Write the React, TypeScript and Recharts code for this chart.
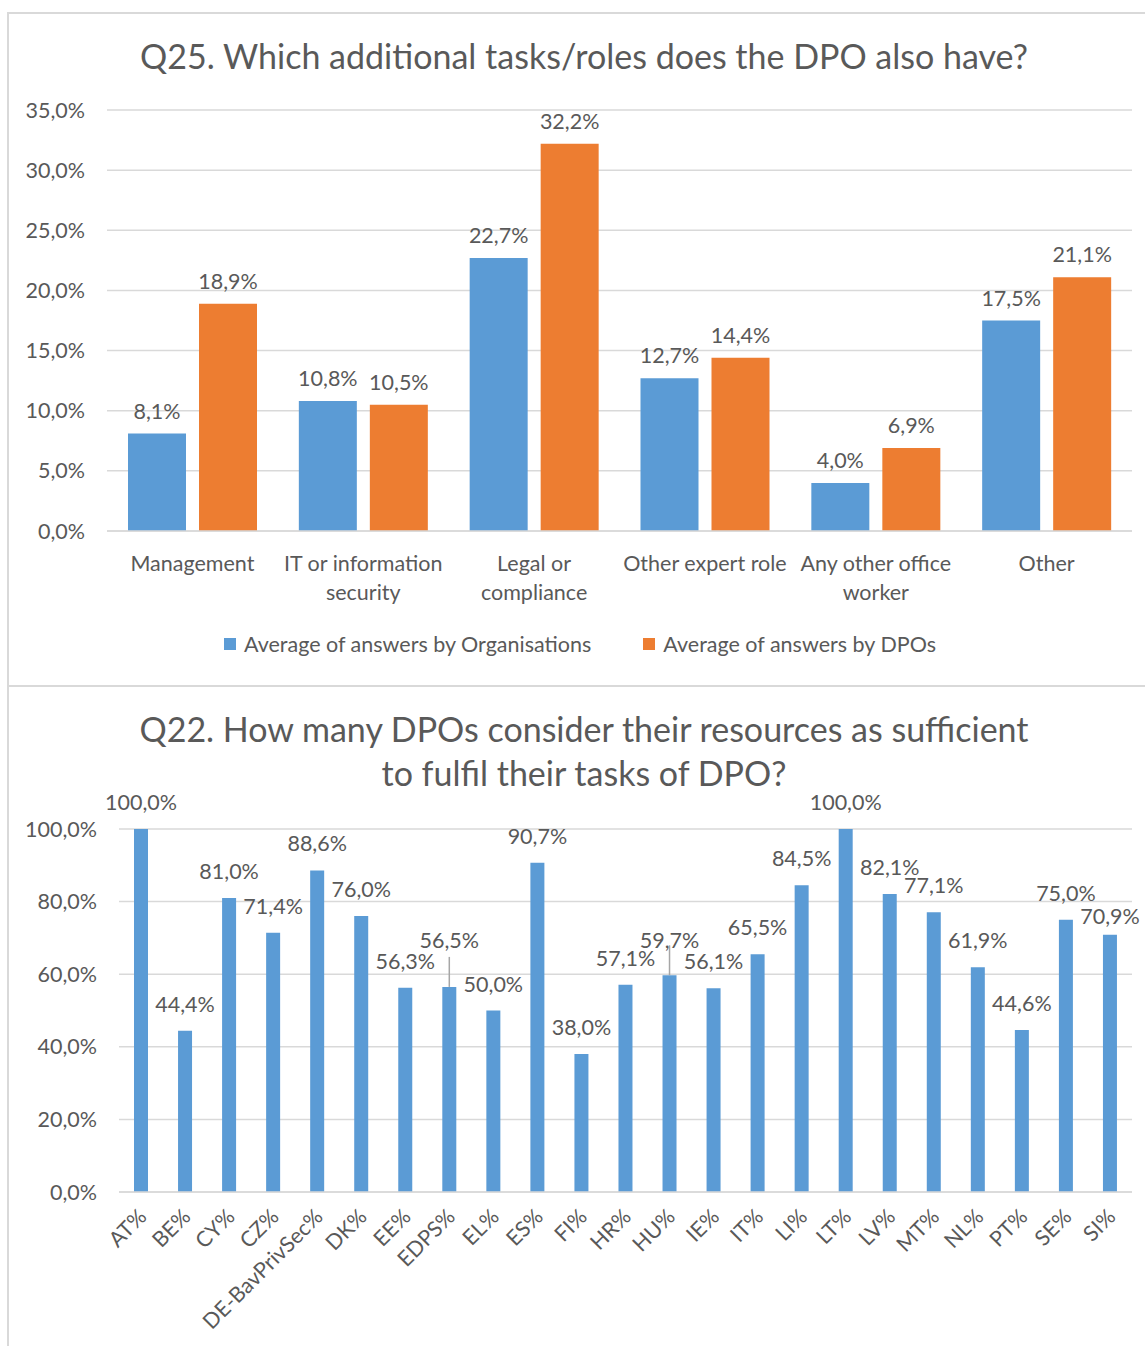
import { Bar, BarChart, CartesianGrid, LabelList, XAxis, YAxis } from 'recharts';

// Q25 data
const taskCategories = [
  'Management',
  'IT or information\nsecurity',
  'Legal or\ncompliance',
  'Other expert role',
  'Any other office\nworker',
  'Other',
];
const orgValues = [8.1, 10.8, 22.7, 12.7, 4.0, 17.5];
const dpoValues = [18.9, 10.5, 32.2, 14.4, 6.9, 21.1];
const taskTicks = [0, 5, 10, 15, 20, 25, 30, 35];

// Q22 data
const countries = [
  'AT%', 'BE%', 'CY%', 'CZ%', 'DE-BavPrivSec%', 'DK%', 'EE%', 'EDPS%', 'EL%', 'ES%', 'FI%', 'HR%',
  'HU%', 'IE%', 'IT%', 'LI%', 'LT%', 'LV%', 'MT%', 'NL%', 'PT%', 'SE%', 'SI%',
];
const sufficientValues = [
  100.0, 44.4, 81.0, 71.4, 88.6, 76.0, 56.3, 56.5, 50.0, 90.7, 38.0, 57.1,
  59.7, 56.1, 65.5, 84.5, 100.0, 82.1, 77.1, 61.9, 44.6, 75.0, 70.9,
];
const sufficientTicks = [0, 20, 40, 60, 80, 100];

const taskData = taskCategories.map((name, i) => ({ name, org: orgValues[i], dpo: dpoValues[i] }));
const sufficientData = countries.map((name, i) => ({ name, value: sufficientValues[i] }));

const BLUE = '#5B9BD5';
const ORANGE = '#ED7D31';
const TEXT = '#595959';
const GRID = '#D9D9D9';
const FONT = 'Lato, "Open Sans", sans-serif';
const FS = 21.5;

// label nudges as Excel placed them (positive = lifted with a leader line)
const raisedLabels: Record<string, number> = { 'EDPS%': 20, 'HU%': 8, 'SI%': -8 };

const pct = (v: number) => v.toFixed(1).replace('.', ',') + '%';

const WrappedTick = ({ x, y, payload }: any) => {
  const lines = String(payload.value).split('\n');
  return (
    <text x={x} y={y} textAnchor="middle" fill={TEXT} fontSize={FS} fontFamily={FONT}>
      {lines.map((l, i) => (
        <tspan key={i} x={x} dy={i === 0 ? 32 : 29}>
          {l}
        </tspan>
      ))}
    </text>
  );
};

const RotatedTick = ({ x, y, payload }: any) => (
  <text
    x={x + 7}
    y={y + 18}
    transform={`rotate(-45, ${x + 7}, ${y + 18})`}
    textAnchor="end"
    fill={TEXT}
    fontSize={FS}
    fontFamily={FONT}
  >
    {payload.value}
  </text>
);

const SufficientLabel = (props: any) => {
  const { x, y, width, value, index } = props;
  const name = countries[index];
  const lift = raisedLabels[name] || 0;
  const cx = x + width / 2;
  const ty = y - 19 - lift;
  return (
    <g>
      {lift > 0 && <line x1={cx} x2={cx} y1={y} y2={y - 30} stroke="#A6A6A6" strokeWidth={1.5} />}
      <text x={cx} y={ty} textAnchor="middle" fill={TEXT} fontSize={FS} fontFamily={FONT}>
        {pct(value)}
      </text>
    </g>
  );
};

export default function App() {
  return (
    <div style={{ position: 'absolute', left: 0, top: 0, width: 1145, height: 1346, background: '#fff', fontFamily: FONT, overflow: 'hidden' }}>
      <div style={{ position: 'absolute', left: 7, top: 12, width: 1160, height: 671, border: `2px solid ${GRID}` }} />
      <div style={{ position: 'absolute', left: 7, top: 685, width: 1160, height: 700, borderLeft: `2px solid ${GRID}`, borderTop: `2px solid ${GRID}` }} />

      <div style={{ position: 'absolute', left: 84, top: 35, width: 1000, textAlign: 'center', color: TEXT, fontSize: 34 }}>
        Q25. Which additional tasks/roles does the DPO also have?
      </div>

      <div style={{ position: 'absolute', left: 0, top: 0 }}>
        <BarChart width={1145} height={685} data={taskData} margin={{ top: 110, right: 13, bottom: 94, left: 0 }} barSize={58} barGap={13}>
          <CartesianGrid vertical={false} stroke={GRID} strokeWidth={1.5} />
          <XAxis dataKey="name" axisLine={{ stroke: GRID, strokeWidth: 1.5 }} tickLine={false} height={60} interval={0} tick={<WrappedTick />} />
          <YAxis
            width={107}
            domain={[0, 35]}
            ticks={taskTicks}
            axisLine={false}
            tickLine={false}
            tickSize={0}
            tickMargin={22}
            tickFormatter={pct}
            tick={{ fill: TEXT, fontSize: FS, fontFamily: FONT }}
          />
          <Bar dataKey="org" fill={BLUE} isAnimationActive={false}>
            <LabelList dataKey="org" position="top" offset={15} formatter={(v: any) => pct(Number(v))} fill={TEXT} fontSize={FS} fontFamily={FONT} />
          </Bar>
          <Bar dataKey="dpo" fill={ORANGE} isAnimationActive={false}>
            <LabelList dataKey="dpo" position="top" offset={15} formatter={(v: any) => pct(Number(v))} fill={TEXT} fontSize={FS} fontFamily={FONT} />
          </Bar>
        </BarChart>
      </div>

      <div style={{ position: 'absolute', left: 80, top: 631, width: 1000, display: 'flex', justifyContent: 'center', gap: 52, color: TEXT, fontSize: FS }}>
        <span style={{ display: 'flex', alignItems: 'center' }}>
          <span style={{ width: 12, height: 12, background: BLUE, marginRight: 8, display: 'inline-block' }} />
          Average of answers by Organisations
        </span>
        <span style={{ display: 'flex', alignItems: 'center' }}>
          <span style={{ width: 12, height: 12, background: ORANGE, marginRight: 8, display: 'inline-block' }} />
          Average of answers by DPOs
        </span>
      </div>

      <div style={{ position: 'absolute', left: 84, top: 707, width: 1000, textAlign: 'center', color: TEXT, fontSize: 34, lineHeight: '44px' }}>
        Q22. How many DPOs consider their resources as sufficient
        <br />
        to fulfil their tasks of DPO?
      </div>

      <div style={{ position: 'absolute', left: 0, top: 685 }}>
        <BarChart width={1145} height={661} data={sufficientData} margin={{ top: 144, right: 13, bottom: 54, left: 0 }} barSize={14}>
          <CartesianGrid vertical={false} stroke={GRID} strokeWidth={1.5} />
          <XAxis dataKey="name" axisLine={{ stroke: GRID, strokeWidth: 1.5 }} tickLine={false} height={100} interval={0} tick={<RotatedTick />} />
          <YAxis
            width={119}
            domain={[0, 100]}
            ticks={sufficientTicks}
            axisLine={false}
            tickLine={false}
            tickSize={0}
            tickMargin={22}
            tickFormatter={pct}
            tick={{ fill: TEXT, fontSize: FS, fontFamily: FONT }}
          />
          <Bar dataKey="value" fill={BLUE} isAnimationActive={false}>
            <LabelList dataKey="value" content={<SufficientLabel />} />
          </Bar>
        </BarChart>
      </div>
    </div>
  );
}
